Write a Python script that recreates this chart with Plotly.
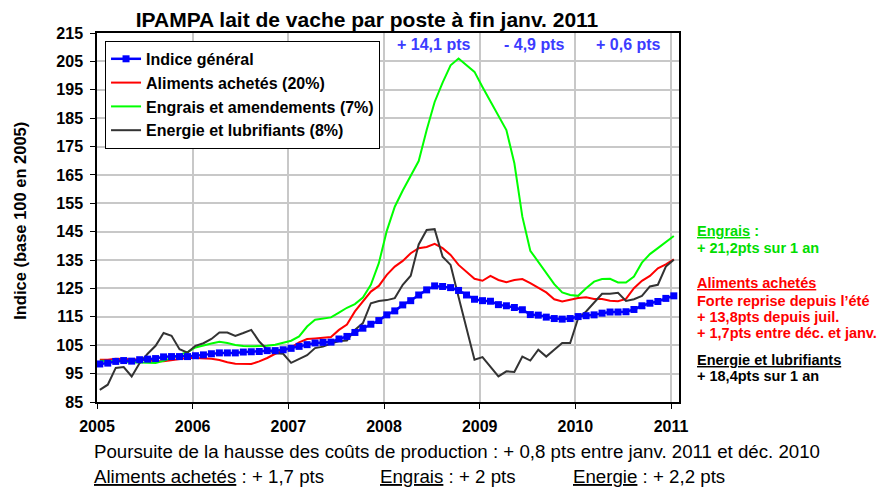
import plotly.graph_objects as go

# Month index 0 = janv. 2005 ... 72 = janv. 2011
year_ticks = [2005, 2006, 2007, 2008, 2009, 2010, 2011]
year_tick_months = [0, 12, 24, 36, 48, 60, 72]

indice_general = [
    98.4, 98.7, 99.3, 99.6, 99.4, 99.9, 100.1, 100.3, 100.9, 101.0, 101.0, 101.0,
    101.3, 101.6, 102.0, 102.3, 102.3, 102.3, 102.6, 102.7, 102.8, 103.1, 103.1, 103.4,
    103.9, 104.6, 105.2, 105.8, 106.0, 106.1, 107.2, 108.1, 109.5, 111.0, 112.4, 113.7,
    115.7, 117.1, 119.2, 120.7, 122.7, 124.5, 125.9, 125.7, 125.3, 124.3, 122.7, 121.2,
    120.7, 120.5, 119.3, 118.9, 118.3, 117.5, 115.8, 115.6, 114.9, 114.4, 114.2, 114.4,
    115.1, 115.4, 115.7, 116.3, 116.7, 116.7, 116.8, 117.6, 118.9, 119.8, 120.4, 121.5,
    122.4,
]
aliments = [
    99.9, 99.9, 100.2, 100.2, 100.1, 100.0, 99.7, 99.4, 99.4, 99.7, 100.2, 100.5,
    100.5, 100.4, 100.2, 99.8, 99.0, 98.5, 98.4, 98.4, 99.3, 100.5, 102.0, 103.0,
    104.2, 106.0, 107.2, 107.4, 107.6, 107.9, 110.4, 112.3, 116.9, 120.5, 123.9, 125.9,
    129.8, 132.7, 134.7, 137.4, 139.2, 139.6, 140.7, 139.2, 136.8, 133.3, 130.9, 128.4,
    127.7, 129.4, 128.0, 127.2, 128.0, 128.3, 126.9, 125.3, 123.6, 121.2, 120.4, 121.0,
    121.6, 121.9, 121.3, 121.3, 120.7, 120.5, 121.3, 125.1, 127.7, 129.4, 132.1, 133.5,
    135.3,
]
engrais = [
    99.5, 99.5, 99.5, 99.3, 99.0, 98.9, 98.8, 98.7, 99.5, 100.6, 101.5, 102.6,
    104.2, 105.0, 105.6, 106.2, 105.8, 105.1, 104.7, 104.6, 104.6, 104.8, 105.2, 105.8,
    106.6, 108.1, 111.6, 114.0, 114.5, 114.8, 116.5, 118.2, 119.5, 121.8, 126.3, 133.9,
    145.3, 153.8, 159.5, 164.5, 169.9, 180.8, 190.7, 197.5, 203.6, 206.0, 203.8, 201.3,
    196.0, 191.0, 186.1, 180.8, 169.1, 150.3, 138.3, 134.5, 130.4, 126.5, 123.6, 122.7,
    122.4, 125.1, 127.4, 128.3, 128.4, 127.1, 127.1, 129.2, 134.1, 137.1, 139.2, 141.5,
    143.5,
]
energie = [
    89.3, 91.1, 97.0, 97.3, 94.0, 98.7, 102.0, 104.8, 109.3, 108.3, 103.6, 102.4,
    104.8, 105.7, 107.2, 109.5, 109.5, 108.3, 109.3, 110.4, 106.3, 103.4, 102.2, 102.0,
    98.8, 100.1, 101.5, 104.0, 104.5, 105.6, 106.5, 106.7, 110.4, 112.8, 119.8, 120.6,
    120.9, 121.6, 126.3, 129.5, 140.5, 145.6, 145.9, 136.2, 133.3, 122.0, 111.0, 99.9,
    100.8, 97.5, 94.0, 95.8, 95.6, 101.0, 99.6, 103.4, 101.0, 103.4, 105.8, 105.8,
    114.5, 116.9, 120.0, 123.1, 123.1, 123.5, 120.6, 121.2, 122.4, 125.7, 126.3, 132.7,
    135.1,
]

series_names = [
    "Indice général",
    "Aliments achetés (20%)",
    "Engrais et amendements (7%)",
    "Energie et lubrifiants (8%)",
]
yticks = list(range(85, 216, 10))

top_labels = ["+ 14,1 pts", "- 4,9 pts", "+ 0,6 pts"]
top_label_months = [47, 59, 71]

engrais_lines = ["<u>Engrais</u> :", "+ 21,2pts sur 1 an"]
aliments_lines = ["<u>Aliments achetés</u>", "Forte reprise depuis l’été",
                  "+ 13,8pts depuis juil.", "+ 1,7pts entre déc. et janv."]
energie_lines = ["<u>Energie et lubrifiants</u>", "+ 18,4pts sur 1 an"]

bottom_line1 = "Poursuite de la hausse des coûts de production : + 0,8 pts entre janv. 2011 et déc. 2010"
bottom_line2 = ["<u>Aliments achetés</u> : + 1,7 pts", "<u>Engrais</u> : + 2 pts", "<u>Energie</u> : + 2,2 pts"]

months = [i + 0.35 for i in range(len(indice_general))]

FONT = "Arial, 'Liberation Sans', sans-serif"

fig = go.Figure()
fig.add_trace(go.Scatter(x=months, y=aliments, mode="lines", name=series_names[1], legendrank=2,
                         line=dict(color="#ff0000", width=2)))
fig.add_trace(go.Scatter(x=months, y=engrais, mode="lines", name=series_names[2], legendrank=3,
                         line=dict(color="#00ff00", width=2)))
fig.add_trace(go.Scatter(x=months, y=energie, mode="lines", name=series_names[3], legendrank=4,
                         line=dict(color="#333333", width=2)))
fig.add_trace(go.Scatter(x=months, y=indice_general, mode="lines+markers", name=series_names[0],
                         legendrank=1,
                         line=dict(color="#0000ff", width=2.5),
                         marker=dict(symbol="square", size=7, color="#0000ff")))

annotations = []
for xm, txt in zip(top_label_months, top_labels):
    annotations.append(dict(x=xm, y=211.0, xref="x", yref="y", text=txt, showarrow=False,
                            xanchor="right", yanchor="middle",
                            font=dict(family=FONT, size=16, color="#3c3cff", weight="bold")))


def side_block(lines, ys, color):
    for txt, yp in zip(lines, ys):
        annotations.append(dict(x=1.027, y=yp, xref="paper", yref="paper", xanchor="left",
                                yanchor="middle", align="left", showarrow=False, text=txt,
                                font=dict(family=FONT, size=14.5, color=color, weight="bold")))


side_block(engrais_lines, [0.4637, 0.4184], "#00dd00")
side_block(aliments_lines, [0.3221, 0.2750, 0.2317, 0.1867], "#ff0000")
side_block(energie_lines, [0.1145, 0.0712], "#000000")

annotations.append(dict(x=-0.1325, y=0.4907, xref="paper", yref="paper", textangle=-90,
                        showarrow=False, xanchor="center", yanchor="middle",
                        text="Indice (base 100 en 2005)",
                        font=dict(family=FONT, size=16.5, color="#000000", weight="bold")))

annotations.append(dict(x=-0.0086, y=-0.1337, xref="paper", yref="paper", xanchor="left",
                        yanchor="middle", showarrow=False, text=bottom_line1,
                        font=dict(family=FONT, size=18.7, color="#000000")))
for xp, txt in zip([-0.0086, 0.4835, 0.8152], bottom_line2):
    annotations.append(dict(x=xp, y=-0.2013, xref="paper", yref="paper", xanchor="left",
                            yanchor="middle", showarrow=False, text=txt,
                            font=dict(family=FONT, size=18.7, color="#000000")))

# The page body has an 8px margin: the figure is sized so that it fits the 895x491 window
fig.update_layout(
    width=887, height=483, autosize=False,
    margin=dict(l=89, r=216, t=25, b=89),
    paper_bgcolor="white", plot_bgcolor="white",
    title=dict(text="<b>IPAMPA lait de vache par poste à fin janv. 2011</b>",
               x=359 / 887, xanchor="center", xref="container",
               y=1 - 12 / 483, yanchor="middle", yref="container",
               font=dict(family=FONT, size=21, color="#000000")),
    font=dict(family=FONT, color="#000000"),
    legend=dict(x=0.0138, y=0.9786, xanchor="left", yanchor="top",
                bgcolor="white", bordercolor="#000000", borderwidth=1,
                traceorder="normal",
                font=dict(family=FONT, size=16, color="#000000", weight="bold")),
    annotations=annotations,
    showlegend=True,
)

fig.update_xaxes(range=[0, 73], tickvals=year_tick_months, ticktext=[str(y) for y in year_ticks],
                 showgrid=True, gridcolor="#c8c8c8", gridwidth=1.5,
                 showline=True, linecolor="#000000", linewidth=1.5, mirror=True,
                 ticks="outside", ticklen=5, tickcolor="#000000", ticklabelstandoff=4,
                 tickfont=dict(family=FONT, size=16, color="#000000", weight="bold"),
                 zeroline=False)
fig.update_yaxes(range=[85, 215], tickvals=yticks,
                 showgrid=True, gridcolor="#c8c8c8", gridwidth=1.5,
                 showline=True, linecolor="#000000", linewidth=1.5, mirror=True,
                 ticks="outside", ticklen=5, tickcolor="#000000", ticklabelstandoff=4,
                 tickfont=dict(family=FONT, size=16, color="#000000", weight="bold"),
                 zeroline=False)

fig.write_html("out.html")
